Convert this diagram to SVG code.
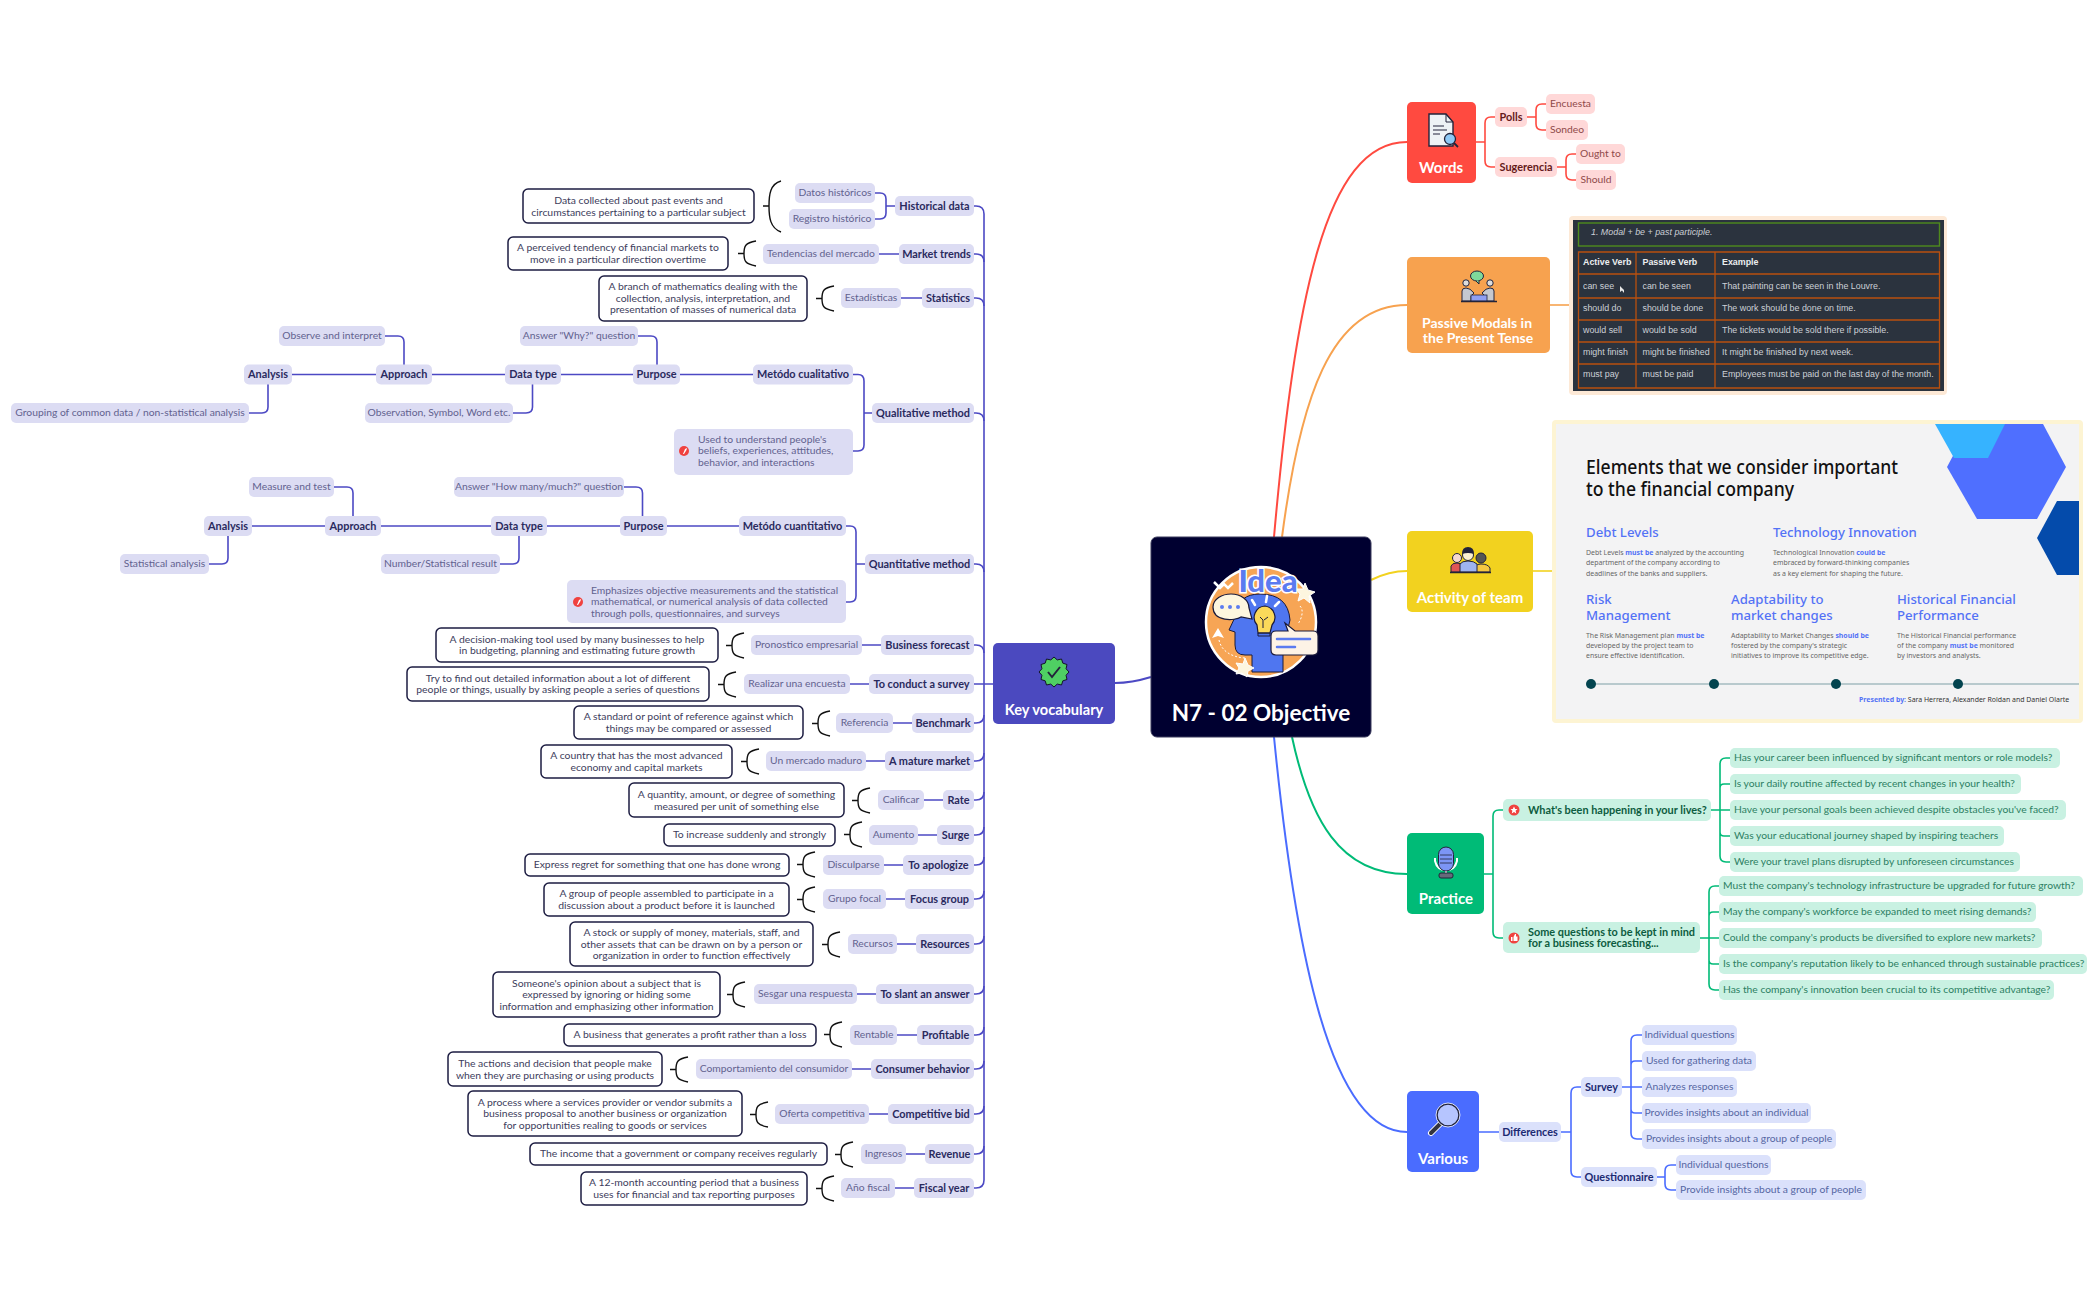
<svg xmlns="http://www.w3.org/2000/svg" width="2099" height="1300" viewBox="0 0 2099 1300">
<style>
text{font-family:"Lato","Noto Sans",sans-serif;font-size:10.3px;dominant-baseline:central;text-anchor:middle;transform:translateY(-.7px)}
.l{text-anchor:start}
.pl{fill:#dcdcf3}.rd{fill:#ffd8d8}.gn{fill:#c9f1e2}.bu{fill:#dbe1fb}
rect.n{stroke:none}
.tp{fill:#62628f}.tpb{fill:#2a2a5e;font-weight:700;font-size:10.9px}
.tr{fill:#8f4a4a}.trb{fill:#651a1a;font-weight:700;font-size:10.9px}
.tg{fill:#2c8062}.tgb{fill:#0d5c40;font-weight:700;font-size:10.9px}
.tb{fill:#5667a3}.tbb{fill:#1b2a72;font-weight:700;font-size:10.9px}
.bx{fill:#fff;stroke:#1d1d42;stroke-width:1.5}
.tx{fill:#3d3d5c;font-size:10.4px}
.main{fill:#fff;font-weight:700;font-size:14.6px}
.cp{fill:none;stroke:#4c49c4;stroke-width:1.6}
.cr{fill:none;stroke:#ff4a40;stroke-width:1.6}
.cg{fill:none;stroke:#00bb77;stroke-width:1.6}
.cb{fill:none;stroke:#4a6cff;stroke-width:1.6}
.brace{fill:none;stroke:#111;stroke-width:1.4}
.tb1{font-family:"Liberation Sans",Arial,sans-serif;font-size:8.9px;fill:#ccd0d6;text-anchor:start}
.tb2{font-family:"Liberation Sans",Arial,sans-serif;font-size:8.9px;fill:#eceef0;font-weight:700;text-anchor:start}
.s1{font-size:20px;font-weight:500;fill:#111;text-anchor:start;font-family:"Noto Sans",sans-serif}
.s2{font-size:13.2px;fill:#5372f6;text-anchor:start;font-family:"Noto Sans",sans-serif;font-weight:500}
.s3{font-size:6.95px;fill:#666;text-anchor:start;font-family:"Noto Sans",sans-serif}
.s3 tspan{fill:#5372f6;font-weight:700}
</style>
<defs>
<path id="br" d="M18 0C7 2 6 5 6 12.500C6 20 7 23 18 25M0 12.500H6" class="brace"/>
</defs>

<g id="connectors">
<path d="M1274 537C1295 300 1325 142 1407 142" fill="none" stroke="#ff4a40" stroke-width="2"/>
<path d="M1282 537C1300 400 1330 305 1407 305" fill="none" stroke="#f7a24f" stroke-width="2"/>
<path d="M1371 580C1385 573 1395 571 1407 571" fill="none" stroke="#f2d21f" stroke-width="2"/>
<path d="M1292 737C1310 820 1340 874 1407 874" fill="none" stroke="#00bb77" stroke-width="2"/>
<path d="M1274 737C1295 950 1330 1132 1407 1132" fill="none" stroke="#4a6cff" stroke-width="2"/>
<path d="M1151 677C1138 681 1128 683 1115 683" fill="none" stroke="#4c49c4" stroke-width="2"/>

<path class="cr" d="M1476 142H1485M1495 117H1491Q1485 117 1485 123V161Q1485 167 1491 167H1495"/>
<path class="cr" d="M1527 117H1536M1546 104H1542Q1536 104 1536 110V124Q1536 130 1542 130H1546"/>
<path class="cr" d="M1557 167H1566M1576 154H1572Q1566 154 1566 160V174Q1566 180 1572 180H1576"/>
<path d="M1550 305H1569" fill="none" stroke="#f7a24f" stroke-width="1.600"/>
<path d="M1533 571H1552" fill="none" stroke="#f2d21f" stroke-width="1.600"/>

<path class="cg" d="M1484 874H1493M1503 810H1499Q1493 810 1493 816V932Q1493 938 1499 938H1503"/>
<path class="cg" d="M1711 810H1730M1730 758H1726Q1720 758 1720 764V856Q1720 862 1726 862H1730M1730 784H1724Q1720 784 1720 788M1730 836H1724Q1720 836 1720 832"/>
<path class="cg" d="M1700 938H1719M1719 886H1715Q1709 886 1709 892V984Q1709 990 1715 990H1719M1719 912H1713Q1709 912 1709 916M1719 964H1713Q1709 964 1709 960"/>

<path class="cb" d="M1479 1132H1499M1561 1132H1571M1581 1087H1577Q1571 1087 1571 1093V1171Q1571 1177 1577 1177H1581"/>
<path class="cb" d="M1622 1087H1642M1642 1035H1637Q1631 1035 1631 1041V1133Q1631 1139 1637 1139H1642M1642 1061H1635Q1631 1061 1631 1065M1642 1113H1635Q1631 1113 1631 1109"/>
<path class="cb" d="M1657 1177H1665M1676 1165H1671Q1665 1165 1665 1171V1184Q1665 1190 1671 1190H1676"/>

<path class="cp" d="M974 206H976Q984 206 984 214V1180Q984 1188 976 1188H974"/>
<path class="cp" d="M974 254H976Q984 254 984 262M974 298H976Q984 298 984 306M974 413H976Q984 413 984 421M974 564H976Q984 564 984 572M974 645H976Q984 645 984 653M974 684H993M974 723H976Q984 723 984 715M974 761H976Q984 761 984 753M974 800H976Q984 800 984 792M974 835H976Q984 835 984 827M974 865H976Q984 865 984 857M974 899H976Q984 899 984 891M974 944H976Q984 944 984 936M974 994H976Q984 994 984 986M974 1035H976Q984 1035 984 1027M974 1069H976Q984 1069 984 1061M974 1114H976Q984 1114 984 1106M974 1154H976Q984 1154 984 1146"/>
<path class="cp" d="M895 206H886M875 193H880Q886 193 886 199V213Q886 219 880 219H875"/>
<path class="cp" d="M879 254H899M901 298H922M893 723H912M866 761H885M924 800H943M918 835H937M884 865H903M886 899H905M897 944H916M857 994H876M897 1035H917M852 1069H871M869 1114H888M906 1154H925M895 1188H914M862 645H881M850 684H869"/>
<path class="cp" d="M292 374.500H376M432 374.500H505M561 374.500H633M680 374.500H753"/>
<path class="cp" d="M657 365V342Q657 336 651 336H638M404 365V342Q404 336 398 336H385M532.500 384V407Q532.500 413 526 413H513M268 384V407Q268 413 262 413H249"/>
<path class="cp" d="M872 413H864M853 374.500H858Q864 374.500 864 381V445Q864 451 858 451H853"/>
<path class="cp" d="M252 526H325M381 526H491M547 526H620M667 526H739"/>
<path class="cp" d="M642.500 516V493Q642.500 487 636 487H624M353 516V493Q353 487 347 487H334M519 536V558Q519 564 513 564H500M228 536V558Q228 564 222 564H209"/>
<path class="cp" d="M865 564H856M846 526H850Q856 526 856 532V596Q856 602 850 602H846"/>
</g>

<g id="center">
<rect x="1151" y="537" width="220" height="200" rx="6" fill="#000030" stroke="#3a3a5c"/>
<circle cx="1261" cy="622" r="55" fill="#f7a555" stroke="#fff" stroke-width="2.500"/>
<path d="M1252 672V655H1245Q1235 655 1235 645V632L1229 630L1236 615Q1238 594 1260 594Q1288 594 1290 620L1283 650V672Z" fill="#4f76f0" stroke="#1a1a3a"/>
<path d="M1213 607C1213 599 1222 594 1231 594C1241 594 1249 600 1249 608L1252 619L1241 617C1235 621 1213 622 1213 607Z" fill="#fdf6df" stroke="#1a1a3a" stroke-width="1.200"/>
<circle cx="1222" cy="607" r="2" fill="#5b7bf0"/><circle cx="1230" cy="607" r="2" fill="#5b7bf0"/><circle cx="1238" cy="607" r="2" fill="#5b7bf0"/>
<path d="M1265 606A11.500 11.500 0 0 1 1272 625L1270 633H1258L1257 625A11.500 11.500 0 0 1 1265 606Z" fill="#fbd95a" stroke="#1a1a3a" stroke-width="1.200"/>
<path d="M1258 633H1270V636H1258ZM1263 628V620L1260 617M1264 620L1268 617" fill="none" stroke="#1a1a3a"/>
<path d="M1255 605L1252 600M1266 602L1267 596M1275 606L1279 602" stroke="#fff" stroke-width="2.500" stroke-linecap="round"/>
<path d="M1285 623L1295 631H1313Q1318 631 1318 636V650Q1318 655 1313 655H1276Q1271 655 1271 650V636Q1271 631 1276 631H1288Z" fill="#fdf3e6" stroke="#1a1a3a" stroke-width="1.200"/>
<path d="M1277 639H1310M1277 647H1295" stroke="#5b7bf0" stroke-width="2.500" stroke-linecap="round"/>
<path d="M1305 583L1308 590L1315 592L1309 596L1310 603L1304 598L1298 601L1300 594L1296 589L1303 589Z" fill="#fdf6df" stroke="#fff"/>
<path d="M1245 658L1248 665L1254 668L1248 671L1247 677L1242 673L1236 674L1239 668L1236 663L1243 664Z" fill="#fdf6df" stroke="#fff"/>
<path d="M1214 582L1220 588L1224 584L1228 588L1233 583" fill="none" stroke="#fff" stroke-width="2.500"/>
<path d="M1218 628L1224 638L1218 636L1212 638Z" fill="#fff"/>
<path d="M1219 640C1221 650 1230 657 1245 658M1300 606C1304 610 1302 618 1298 624" fill="none" stroke="#fff" stroke-dasharray="2 2"/>
<text x="1268" y="581" style="font-size:31px;font-weight:900;fill:#5b7bf0;stroke:#fff;stroke-width:3px;paint-order:stroke">Idea</text>
<text x="1261" y="713" style="fill:#fff;font-weight:700;font-size:22.5px">N7 - 02 Objective</text>
</g>

<g id="words">
<rect x="1407" y="102" width="69" height="81" rx="5" fill="#ff4a40"/>
<path d="M1429 114H1446L1453 122V146H1429Z" fill="#eef2f5" stroke="#22233a" stroke-width="1.400"/>
<path d="M1446 114V122H1453M1433 126H1444M1433 130H1447M1433 134H1440" fill="none" stroke="#22233a"/>
<circle cx="1450" cy="139" r="5.500" fill="#8ec9f5" stroke="#22233a" stroke-width="1.300"/>
<path d="M1454 143L1458 147" stroke="#22233a" stroke-width="1.800"/>
<text x="1441" y="168" class="main" style="font-size:15px">Words</text>
</g>
<g id="polls"><rect class="rd" x="1495" y="107" width="32" height="20" rx="5"/><text x="1511" y="117" class="trb">Polls</text></g>
<g id="encuesta"><rect class="rd" x="1546" y="94" width="49" height="20" rx="5"/><text x="1570.500" y="104" class="tr">Encuesta</text></g>
<g id="sondeo"><rect class="rd" x="1546" y="120" width="42" height="20" rx="5"/><text x="1567" y="130" class="tr">Sondeo</text></g>
<g id="sugerencia"><rect class="rd" x="1495" y="157" width="62" height="20" rx="5"/><text x="1526" y="167" class="trb">Sugerencia</text></g>
<g id="ought"><rect class="rd" x="1576" y="144" width="49" height="20" rx="5"/><text x="1600.500" y="154" class="tr">Ought to</text></g>
<g id="should"><rect class="rd" x="1576" y="170" width="40" height="20" rx="5"/><text x="1596" y="180" class="tr">Should</text></g>

<g id="passive">
<rect x="1407" y="257" width="143" height="96" rx="5" fill="#f7a24f"/>
<ellipse cx="1477" cy="276" rx="6.500" ry="5" fill="#7fd99a" stroke="#22233a"/>
<path d="M1476 281L1479 284L1479 280" fill="#7fd99a" stroke="#22233a"/>
<circle cx="1466" cy="283" r="3.200" fill="#ddd" stroke="#22233a"/><circle cx="1490" cy="283" r="3.200" fill="#ddd" stroke="#22233a"/>
<path d="M1462 301V291Q1462 288 1466 288Q1470 288 1474 293L1471 296V301ZM1494 301V291Q1494 288 1490 288Q1486 288 1482 293L1485 296V301Z" fill="#c5c8cf" stroke="#22233a"/>
<rect x="1471" y="295" width="16" height="6" fill="#8f9ff2" stroke="#22233a" stroke-width=".8"/>
<path d="M1461 301.500H1497" stroke="#22233a" stroke-width="1.400"/>
<text x="1477" y="323" class="main" style="font-size:14px">Passive Modals in</text>
<text x="1478" y="338" class="main" style="font-size:14px">the Present Tense</text>
</g>
<g id="table-image">
<rect x="1569" y="216" width="378" height="179" rx="4" fill="#fde9d6"/>
<rect x="1573" y="220" width="371" height="171" fill="#2b333e"/>
<rect x="1578.500" y="223" width="361" height="23" fill="none" stroke="#4f8a1d" stroke-width="1.400"/>
<text x="1591" y="233" class="tb1" style="font-style:italic">1. Modal + be + past participle.</text>
<path d="M1578.500 252H1939.500V388H1578.500ZM1636 252V388M1715 252V388M1578.500 274H1939.500M1578.500 298H1939.500M1578.500 320H1939.500M1578.500 342H1939.500M1578.500 364H1939.500" fill="none" stroke="#b9500f" stroke-width="1.300"/>
<text x="1583" y="263" class="tb2">Active Verb</text><text x="1642.500" y="263" class="tb2">Passive Verb</text><text x="1722" y="263" class="tb2">Example</text>
<text x="1583" y="287" class="tb1">can see</text><text x="1642.500" y="287" class="tb1">can be seen</text><text x="1722" y="287" class="tb1">That painting can be seen in the Louvre.</text>
<text x="1583" y="309" class="tb1">should do</text><text x="1642.500" y="309" class="tb1">should be done</text><text x="1722" y="309" class="tb1">The work should be done on time.</text>
<text x="1583" y="331" class="tb1">would sell</text><text x="1642.500" y="331" class="tb1">would be sold</text><text x="1722" y="331" class="tb1">The tickets would be sold there if possible.</text>
<text x="1583" y="353" class="tb1">might finish</text><text x="1642.500" y="353" class="tb1">might be finished</text><text x="1722" y="353" class="tb1">It might be finished by next week.</text>
<text x="1583" y="375" class="tb1">must pay</text><text x="1642.500" y="375" class="tb1">must be paid</text><text x="1722" y="375" class="tb1">Employees must be paid on the last day of the month.</text>
<path d="M1620 286L1620 292L1622 290.500L1624 293L1624 290L1623 289Z" fill="#e8e8e8"/>
</g>

<g id="activity">
<rect x="1407" y="531" width="126" height="81" rx="5" fill="#f2d21f"/>
<path d="M1451 572V566Q1452 563 1457 563L1462 564V572Z" fill="#e05555" stroke="#22233a"/>
<path d="M1476 572V566Q1477 564 1481 564Q1488 564 1490 568V572Z" fill="#f5c842" stroke="#22233a"/>
<circle cx="1457" cy="558" r="4.500" fill="#f5d8d0" stroke="#22233a"/>
<circle cx="1481" cy="558" r="5" fill="#555" stroke="#22233a"/>
<path d="M1460 572V564Q1462 561 1468 561Q1474 561 1477 564V572Z" fill="#9fb4f0" stroke="#22233a"/>
<circle cx="1468" cy="555" r="5.500" fill="#fdf2d0" stroke="#22233a"/>
<path d="M1462 554Q1462 547 1468 547Q1474 547 1474 554Q1468 552 1462 554Z" fill="#22233a"/>
<path d="M1450 572.500H1491" stroke="#22233a" stroke-width="1.400"/>
<text x="1470" y="598" class="main" style="font-size:15px">Activity of team</text>
</g>
<g id="slide-image">
<rect x="1552" y="420" width="531" height="303" rx="4" fill="#fdf4d3"/>
<rect x="1556" y="424" width="523" height="295" fill="#f3f3f4"/>
<path d="M1970 424H2043L2066 467L2037 519H1977L1947 467Z" fill="#4f6fff"/>
<path d="M1935 424H2005L1988 458H1954Z" fill="#36b3ff"/>
<path d="M2079 501H2057L2037 538L2057 575H2079Z" fill="#044bab"/>
<text x="1586" y="467" class="s1" textLength="312" lengthAdjust="spacingAndGlyphs">Elements that we consider important</text>
<text x="1586" y="489" class="s1" textLength="208" lengthAdjust="spacingAndGlyphs">to the financial company</text>
<text x="1586" y="533" class="s2">Debt Levels</text>
<text x="1773" y="533" class="s2">Technology Innovation</text>
<text x="1586" y="600" class="s2">Risk</text><text x="1586" y="616" class="s2">Management</text>
<text x="1731" y="600" class="s2">Adaptability to</text><text x="1731" y="616" class="s2">market changes</text>
<text x="1897" y="600" class="s2">Historical Financial</text><text x="1897" y="616" class="s2">Performance</text>
<text x="1586" y="553" class="s3">Debt Levels <tspan>must be</tspan> analyzed by the accounting</text>
<text x="1586" y="563" class="s3">department of the company according to</text>
<text x="1586" y="574" class="s3">deadlines of the banks and suppliers.</text>
<text x="1773" y="553" class="s3">Technological Innovation <tspan>could be</tspan></text>
<text x="1773" y="563" class="s3">embraced by forward-thinking companies</text>
<text x="1773" y="574" class="s3">as a key element for shaping the future.</text>
<text x="1586" y="636" class="s3">The Risk Management plan <tspan>must be</tspan></text>
<text x="1586" y="646" class="s3">developed by the project team to</text>
<text x="1586" y="656" class="s3">ensure effective identification.</text>
<text x="1731" y="636" class="s3">Adaptability to Market Changes <tspan>should be</tspan></text>
<text x="1731" y="646" class="s3">fostered by the company's strategic</text>
<text x="1731" y="656" class="s3">initiatives to improve its competitive edge.</text>
<text x="1897" y="636" class="s3">The Historical Financial performance</text>
<text x="1897" y="646" class="s3">of the company <tspan>must be</tspan> monitored</text>
<text x="1897" y="656" class="s3">by investors and analysts.</text>
<path d="M1591 684H2079" stroke="#7fa0a5" stroke-width="1.200"/>
<circle cx="1591" cy="684" r="5" fill="#03444f"/><circle cx="1714" cy="684" r="5" fill="#03444f"/><circle cx="1836" cy="684" r="5" fill="#03444f"/><circle cx="1958" cy="684" r="5" fill="#03444f"/>
<text x="1859" y="700" class="s3" style="fill:#333"><tspan>Presented by:</tspan> Sara Herrera, Alexander Roldan and Daniel Olarte</text>
</g>

<g id="practice">
<rect x="1407" y="833" width="77" height="81" rx="5" fill="#00bb77"/>
<path d="M1435 858V861Q1437 870 1446 870Q1455 870 1457 861V858M1446 870V874" fill="none" stroke="#fff" stroke-width="2"/>
<rect x="1438.500" y="847" width="15" height="24" rx="7.500" fill="#7c95f5" stroke="#22233a"/>
<path d="M1440 855H1452M1440 859H1452M1440 863H1452" stroke="#22233a" stroke-width=".8"/>
<rect x="1439" y="873" width="14" height="5" rx="2" fill="#666a7a" stroke="#22233a"/>
<text x="1446" y="899" class="main" style="font-size:15px">Practice</text>
</g>
<g id="q1"><rect class="gn" x="1503" y="799" width="208" height="22" rx="5"/><circle cx="1514" cy="810" r="5.500" fill="#f0423f"/><path d="M1514 806.500L1515.200 809H1517.500L1515.600 810.800L1516.300 813.500L1514 812L1511.700 813.500L1512.400 810.800L1510.500 809H1512.800Z" fill="#fff"/><text x="1528" y="810" class="tgb l">What's been happening in your lives?</text></g>
<g id="q1a"><rect class="gn" x="1730" y="748" width="330" height="20" rx="5"/><text x="1734" y="758" class="tg l">Has your career been influenced by significant mentors or role models?</text></g>
<g id="q1b"><rect class="gn" x="1730" y="774" width="291" height="20" rx="5"/><text x="1734" y="784" class="tg l">Is your daily routine affected by recent changes in your health?</text></g>
<g id="q1c"><rect class="gn" x="1730" y="800" width="336" height="20" rx="5"/><text x="1734" y="810" class="tg l">Have your personal goals been achieved despite obstacles you've faced?</text></g>
<g id="q1d"><rect class="gn" x="1730" y="826" width="274" height="20" rx="5"/><text x="1734" y="836" class="tg l">Was your educational journey shaped by inspiring teachers</text></g>
<g id="q1e"><rect class="gn" x="1730" y="852" width="290" height="20" rx="5"/><text x="1734" y="862" class="tg l">Were your travel plans disrupted by unforeseen circumstances</text></g>
<g id="q2"><rect class="gn" x="1503" y="922" width="197" height="31" rx="5"/><circle cx="1514" cy="938" r="5.500" fill="#f0423f"/><path d="M1511 937H1512.500V941H1511ZM1513.500 937L1515 934H1516V936.500H1517.500V941H1513.500Z" fill="#fff"/><text x="1528" y="932" class="tgb l">Some questions to be kept in mind</text><text x="1528" y="943" class="tgb l">for a business forecasting...</text></g>
<g id="q2a"><rect class="gn" x="1719" y="876" width="364" height="20" rx="5"/><text x="1723" y="886" class="tg l">Must the company's technology infrastructure be upgraded for future growth?</text></g>
<g id="q2b"><rect class="gn" x="1719" y="902" width="317" height="20" rx="5"/><text x="1723" y="912" class="tg l">May the company's workforce be expanded to meet rising demands?</text></g>
<g id="q2c"><rect class="gn" x="1719" y="928" width="323" height="20" rx="5"/><text x="1723" y="938" class="tg l">Could the company's products be diversified to explore new markets?</text></g>
<g id="q2d"><rect class="gn" x="1719" y="954" width="368" height="20" rx="5"/><text x="1723" y="964" class="tg l">Is the company's reputation likely to be enhanced through sustainable practices?</text></g>
<g id="q2e"><rect class="gn" x="1719" y="980" width="335" height="20" rx="5"/><text x="1723" y="990" class="tg l">Has the company's innovation been crucial to its competitive advantage?</text></g>

<g id="various">
<rect x="1407" y="1091" width="72" height="81" rx="5" fill="#4a6cff"/>
<path d="M1440 1124L1431 1133" stroke="#fff" stroke-width="6" stroke-linecap="round"/>
<path d="M1440 1124L1431 1133" stroke="#33343f" stroke-width="4" stroke-linecap="round"/>
<circle cx="1448" cy="1115" r="11" fill="#b6c5ff" stroke="#22233a" stroke-width="1.500"/>
<circle cx="1448" cy="1115" r="12" fill="none" stroke="#fff" stroke-width=".8"/>
<text x="1443" y="1159" class="main" style="font-size:15px">Various</text>
</g>
<g id="differences"><rect class="bu" x="1499" y="1122" width="62" height="20" rx="5"/><text x="1530" y="1132" class="tbb">Differences</text></g>
<g id="survey"><rect class="bu" x="1581" y="1077" width="41" height="20" rx="5"/><text x="1601.500" y="1087" class="tbb">Survey</text></g>
<g id="questionnaire"><rect class="bu" x="1581" y="1167" width="76" height="20" rx="5"/><text x="1619" y="1177" class="tbb">Questionnaire</text></g>
<g id="s1"><rect class="bu" x="1642" y="1025" width="95" height="20" rx="5"/><text x="1689.500" y="1035" class="tb">Individual questions</text></g>
<g id="s2"><rect class="bu" x="1642" y="1051" width="114" height="20" rx="5"/><text x="1699" y="1061" class="tb">Used for gathering data</text></g>
<g id="s3"><rect class="bu" x="1642" y="1077" width="95" height="20" rx="5"/><text x="1689.500" y="1087" class="tb">Analyzes responses</text></g>
<g id="s4"><rect class="bu" x="1642" y="1103" width="169" height="20" rx="5"/><text x="1726.500" y="1113" class="tb">Provides insights about an individual</text></g>
<g id="s5"><rect class="bu" x="1642" y="1129" width="194" height="20" rx="5"/><text x="1739" y="1139" class="tb">Provides insights about a group of people</text></g>
<g id="qq1"><rect class="bu" x="1676" y="1155" width="95" height="20" rx="5"/><text x="1723.500" y="1165" class="tb">Individual questions</text></g>
<g id="qq2"><rect class="bu" x="1676" y="1180" width="190" height="20" rx="5"/><text x="1771" y="1190" class="tb">Provide insights about a group of people</text></g>

<g id="key-vocabulary">
<rect x="993" y="643" width="122" height="81" rx="5" fill="#4b49bf"/>
<polygon transform="translate(1054 672)" points="15,0 12.070,3.240 13,7.500 8.840,8.840 7.500,13 3.240,12.070 0,15 -3.240,12.070 -7.500,13 -8.840,8.840 -13,7.500 -12.070,3.240 -15,0 -12.070,-3.240 -13,-7.500 -8.840,-8.840 -7.500,-13 -3.240,-12.070 0,-15 3.240,-12.070 7.500,-13 8.840,-8.840 13,-7.500 12.070,-3.240" fill="#4fcf63" stroke="#15152a" stroke-linejoin="round"/>
<path d="M1048 672L1052 677L1060 667" fill="none" stroke="#22233a" stroke-width="2"/>
<text x="1054" y="710" class="main">Key vocabulary</text>
</g>

<g id="historical"><rect class="pl" x="895" y="196" width="79" height="20" rx="5"/><text x="934.500" y="206" class="tpb">Historical data</text></g>
<g id="datos"><rect class="pl" x="795" y="183" width="80" height="20" rx="5"/><text x="835" y="193" class="tp">Datos históricos</text></g>
<g id="registro"><rect class="pl" x="789" y="209" width="86" height="20" rx="5"/><text x="832" y="219" class="tp">Registro histórico</text></g>
<g id="historical-note"><rect class="bx" x="523" y="189" width="231" height="34" rx="5"/><text x="638.500" y="200.500" class="tx">Data collected about past events and</text><text x="638.500" y="212.500" class="tx">circumstances pertaining to a particular subject</text></g>
<path d="M781 181C770 184 769 195 769 206C769 217 770 228 781 232M763 206H769" class="brace"/>

<g id="market"><rect class="pl" x="899" y="244" width="75" height="20" rx="5"/><text x="936.500" y="254" class="tpb">Market trends</text></g>
<g id="tendencias"><rect class="pl" x="763" y="244" width="116" height="20" rx="5"/><text x="821" y="254" class="tp">Tendencias del mercado</text></g>
<g id="market-note"><rect class="bx" x="508" y="237" width="220" height="33" rx="5"/><text x="618" y="248" class="tx">A perceived tendency of financial markets to</text><text x="618" y="260" class="tx">move in a particular direction overtime</text></g>
<use href="#br" x="738" y="241"/>

<g id="statistics"><rect class="pl" x="922" y="288" width="52" height="20" rx="5"/><text x="948" y="298" class="tpb">Statistics</text></g>
<g id="estadisticas"><rect class="pl" x="841" y="288" width="60" height="20" rx="5"/><text x="871" y="298" class="tp">Estadísticas</text></g>
<g id="statistics-note"><rect class="bx" x="599" y="276" width="208" height="45" rx="5"/><text x="703" y="287" class="tx">A branch of mathematics dealing with the</text><text x="703" y="299" class="tx">collection, analysis, interpretation, and</text><text x="703" y="310" class="tx">presentation of masses of numerical data</text></g>
<use href="#br" x="816" y="286"/>

<g id="observe"><rect class="pl" x="279" y="326" width="106" height="20" rx="5"/><text x="332" y="336" class="tp">Observe and interpret</text></g>
<g id="why"><rect class="pl" x="520" y="326" width="118" height="20" rx="5"/><text x="579" y="336" class="tp">Answer "Why?" question</text></g>
<g id="analysis1"><rect class="pl" x="244" y="364.500" width="48" height="20" rx="5"/><text x="268" y="374.500" class="tpb">Analysis</text></g>
<g id="approach1"><rect class="pl" x="376" y="364.500" width="56" height="20" rx="5"/><text x="404" y="374.500" class="tpb">Approach</text></g>
<g id="datatype1"><rect class="pl" x="505" y="364.500" width="56" height="20" rx="5"/><text x="533" y="374.500" class="tpb">Data type</text></g>
<g id="purpose1"><rect class="pl" x="633" y="364.500" width="47" height="20" rx="5"/><text x="656.500" y="374.500" class="tpb">Purpose</text></g>
<g id="metodo1"><rect class="pl" x="753" y="364.500" width="100" height="20" rx="5"/><text x="803" y="374.500" class="tpb">Metódo cualitativo</text></g>
<g id="qualitative"><rect class="pl" x="872" y="403" width="102" height="20" rx="5"/><text x="923" y="413" class="tpb">Qualitative method</text></g>
<g id="grouping"><rect class="pl" x="11" y="403" width="238" height="20" rx="5"/><text x="130" y="413" class="tp">Grouping of common data / non-statistical analysis</text></g>
<g id="observation"><rect class="pl" x="365" y="403" width="148" height="20" rx="5"/><text x="439" y="413" class="tp">Observation, Symbol, Word etc.</text></g>
<g id="used"><rect class="pl" x="674" y="429" width="179" height="46" rx="5"/><circle cx="684" cy="451" r="5" fill="#f0423f"/><path d="M683 454L685 449L687 448L686.500 450L684 454Z" fill="#fff"/><text x="698" y="440" class="tp l">Used to understand people's</text><text x="698" y="451" class="tp l">beliefs, experiences, attitudes,</text><text x="698" y="463" class="tp l">behavior, and interactions</text></g>

<g id="measure"><rect class="pl" x="249" y="477" width="85" height="20" rx="5"/><text x="291.500" y="487" class="tp">Measure and test</text></g>
<g id="howmany"><rect class="pl" x="454" y="477" width="170" height="20" rx="5"/><text x="539" y="487" class="tp">Answer "How many/much?" question</text></g>
<g id="analysis2"><rect class="pl" x="204" y="516" width="48" height="20" rx="5"/><text x="228" y="526" class="tpb">Analysis</text></g>
<g id="approach2"><rect class="pl" x="325" y="516" width="56" height="20" rx="5"/><text x="353" y="526" class="tpb">Approach</text></g>
<g id="datatype2"><rect class="pl" x="491" y="516" width="56" height="20" rx="5"/><text x="519" y="526" class="tpb">Data type</text></g>
<g id="purpose2"><rect class="pl" x="620" y="516" width="47" height="20" rx="5"/><text x="643.500" y="526" class="tpb">Purpose</text></g>
<g id="metodo2"><rect class="pl" x="739" y="516" width="107" height="20" rx="5"/><text x="792.500" y="526" class="tpb">Metódo cuantitativo</text></g>
<g id="quantitative"><rect class="pl" x="865" y="554" width="109" height="20" rx="5"/><text x="919.500" y="564" class="tpb">Quantitative method</text></g>
<g id="statistical"><rect class="pl" x="120" y="554" width="89" height="20" rx="5"/><text x="164.500" y="564" class="tp">Statistical analysis</text></g>
<g id="number"><rect class="pl" x="381" y="554" width="119" height="20" rx="5"/><text x="440.500" y="564" class="tp">Number/Statistical result</text></g>
<g id="emphasizes"><rect class="pl" x="567" y="580" width="279" height="43" rx="5"/><circle cx="578" cy="602" r="5" fill="#f0423f"/><path d="M577 605L579 600L581 599L580.500 601L578 605Z" fill="#fff"/><text x="591" y="591" class="tp l">Emphasizes objective measurements and the statistical</text><text x="591" y="602" class="tp l">mathematical, or numerical analysis of data collected</text><text x="591" y="614" class="tp l">through polls, questionnaires, and surveys</text></g>

<g id="business"><rect class="pl" x="881" y="635" width="93" height="20" rx="5"/><text x="927.500" y="645" class="tpb">Business forecast</text></g>
<g id="pronostico"><rect class="pl" x="751" y="635" width="111" height="20" rx="5"/><text x="806.500" y="645" class="tp">Pronostico empresarial</text></g>
<g id="business-note"><rect class="bx" x="436" y="628" width="282" height="34" rx="5"/><text x="577" y="639.500" class="tx">A decision-making tool used by many businesses to help</text><text x="577" y="651" class="tx">in budgeting, planning and estimating future growth</text></g>
<use href="#br" x="726" y="633"/>

<g id="conduct"><rect class="pl" x="869" y="674" width="105" height="20" rx="5"/><text x="921.500" y="684" class="tpb">To conduct a survey</text></g>
<g id="realizar"><rect class="pl" x="744" y="674" width="106" height="20" rx="5"/><text x="797" y="684" class="tp">Realizar una encuesta</text></g>
<g id="conduct-note"><rect class="bx" x="407" y="667" width="302" height="34" rx="5"/><text x="558" y="678.500" class="tx">Try to find out detailed information about a lot of different</text><text x="558" y="690" class="tx">people or things, usually by asking people a series of questions</text></g>
<use href="#br" x="718" y="672"/>

<g id="benchmark"><rect class="pl" x="912" y="713" width="62" height="20" rx="5"/><text x="943" y="723" class="tpb">Benchmark</text></g>
<g id="referencia"><rect class="pl" x="836" y="713" width="57" height="20" rx="5"/><text x="864.500" y="723" class="tp">Referencia</text></g>
<g id="benchmark-note"><rect class="bx" x="574" y="706" width="229" height="33" rx="5"/><text x="688.500" y="717" class="tx">A standard or point of reference against which</text><text x="688.500" y="729" class="tx">things may be compared or assessed</text></g>
<use href="#br" x="812" y="711"/>

<g id="mature"><rect class="pl" x="885" y="751" width="89" height="20" rx="5"/><text x="929.500" y="761" class="tpb">A mature market</text></g>
<g id="mercado"><rect class="pl" x="766" y="751" width="100" height="20" rx="5"/><text x="816" y="761" class="tp">Un mercado maduro</text></g>
<g id="mature-note"><rect class="bx" x="541" y="745" width="191" height="33" rx="5"/><text x="636.500" y="756" class="tx">A country that has the most advanced</text><text x="636.500" y="768" class="tx">economy and capital markets</text></g>
<use href="#br" x="741" y="749"/>

<g id="rate"><rect class="pl" x="943" y="790" width="31" height="20" rx="5"/><text x="958.500" y="800" class="tpb">Rate</text></g>
<g id="calificar"><rect class="pl" x="878" y="790" width="46" height="20" rx="5"/><text x="901" y="800" class="tp">Calificar</text></g>
<g id="rate-note"><rect class="bx" x="629" y="783" width="215" height="34" rx="5"/><text x="736.500" y="794.500" class="tx">A quantity, amount, or degree of something</text><text x="736.500" y="806.500" class="tx">measured per unit of something else</text></g>
<use href="#br" x="852" y="788"/>

<g id="surge"><rect class="pl" x="937" y="825" width="37" height="20" rx="5"/><text x="955.500" y="835" class="tpb">Surge</text></g>
<g id="aumento"><rect class="pl" x="869" y="825" width="49" height="20" rx="5"/><text x="893.500" y="835" class="tp">Aumento</text></g>
<g id="surge-note"><rect class="bx" x="664" y="824" width="171" height="22" rx="5"/><text x="749.500" y="835" class="tx">To increase suddenly and strongly</text></g>
<use href="#br" x="844" y="822"/>

<g id="apologize"><rect class="pl" x="903" y="855" width="71" height="20" rx="5"/><text x="938.500" y="865" class="tpb">To apologize</text></g>
<g id="disculparse"><rect class="pl" x="823" y="855" width="61" height="20" rx="5"/><text x="853.500" y="865" class="tp">Disculparse</text></g>
<g id="apologize-note"><rect class="bx" x="525" y="854" width="264" height="22" rx="5"/><text x="657" y="865" class="tx">Express regret for something that one has done wrong</text></g>
<use href="#br" x="797" y="852"/>

<g id="focus"><rect class="pl" x="905" y="889" width="69" height="20" rx="5"/><text x="939.500" y="899" class="tpb">Focus group</text></g>
<g id="grupo"><rect class="pl" x="823" y="889" width="63" height="20" rx="5"/><text x="854.500" y="899" class="tp">Grupo focal</text></g>
<g id="focus-note"><rect class="bx" x="544" y="883" width="245" height="33" rx="5"/><text x="666.500" y="894" class="tx">A group of people assembled to participate in a</text><text x="666.500" y="906" class="tx">discussion about a product before it is launched</text></g>
<use href="#br" x="797" y="887"/>

<g id="resources"><rect class="pl" x="916" y="934" width="58" height="20" rx="5"/><text x="945" y="944" class="tpb">Resources</text></g>
<g id="recursos"><rect class="pl" x="848" y="934" width="49" height="20" rx="5"/><text x="872.500" y="944" class="tp">Recursos</text></g>
<g id="resources-note"><rect class="bx" x="570" y="922" width="243" height="44" rx="5"/><text x="691.500" y="933" class="tx">A stock or supply of money, materials, staff, and</text><text x="691.500" y="945" class="tx">other assets that can be drawn on by a person or</text><text x="691.500" y="956" class="tx">organization in order to function effectively</text></g>
<use href="#br" x="822" y="932"/>

<g id="slant"><rect class="pl" x="876" y="984" width="98" height="20" rx="5"/><text x="925" y="994" class="tpb">To slant an answer</text></g>
<g id="sesgar"><rect class="pl" x="754" y="984" width="103" height="20" rx="5"/><text x="805.500" y="994" class="tp">Sesgar una respuesta</text></g>
<g id="slant-note"><rect class="bx" x="493" y="972" width="227" height="45" rx="5"/><text x="606.500" y="984" class="tx">Someone's opinion about a subject that is</text><text x="606.500" y="995" class="tx">expressed by ignoring or hiding some</text><text x="606.500" y="1007" class="tx">information and emphasizing other information</text></g>
<use href="#br" x="727" y="982"/>

<g id="profitable"><rect class="pl" x="917" y="1025" width="57" height="20" rx="5"/><text x="945.500" y="1035" class="tpb">Profitable</text></g>
<g id="rentable"><rect class="pl" x="850" y="1025" width="47" height="20" rx="5"/><text x="873.500" y="1035" class="tp">Rentable</text></g>
<g id="profitable-note"><rect class="bx" x="564" y="1024" width="252" height="22" rx="5"/><text x="690" y="1035" class="tx">A business that generates a profit rather than a loss</text></g>
<use href="#br" x="824" y="1022"/>

<g id="consumer"><rect class="pl" x="871" y="1059" width="103" height="20" rx="5"/><text x="922.500" y="1069" class="tpb">Consumer behavior</text></g>
<g id="comportamiento"><rect class="pl" x="696" y="1059" width="156" height="20" rx="5"/><text x="774" y="1069" class="tp">Comportamiento del consumidor</text></g>
<g id="consumer-note"><rect class="bx" x="448" y="1052" width="214" height="34" rx="5"/><text x="555" y="1063.500" class="tx">The actions and decision that people make</text><text x="555" y="1075.500" class="tx">when they are purchasing or using products</text></g>
<use href="#br" x="670" y="1057"/>

<g id="competitive"><rect class="pl" x="888" y="1104" width="86" height="20" rx="5"/><text x="931" y="1114" class="tpb">Competitive bid</text></g>
<g id="oferta"><rect class="pl" x="775" y="1104" width="94" height="20" rx="5"/><text x="822" y="1114" class="tp">Oferta competitiva</text></g>
<g id="competitive-note"><rect class="bx" x="468" y="1091" width="274" height="45" rx="5"/><text x="605" y="1103" class="tx">A process where a services provider or vendor submits a</text><text x="605" y="1114" class="tx">business proposal to another business or organization</text><text x="605" y="1126" class="tx">for opportunities realing to goods or services</text></g>
<use href="#br" x="750" y="1102"/>

<g id="revenue"><rect class="pl" x="925" y="1144" width="49" height="20" rx="5"/><text x="949.500" y="1154" class="tpb">Revenue</text></g>
<g id="ingresos"><rect class="pl" x="861" y="1144" width="45" height="20" rx="5"/><text x="883.500" y="1154" class="tp">Ingresos</text></g>
<g id="revenue-note"><rect class="bx" x="530" y="1143" width="297" height="22" rx="5"/><text x="678.500" y="1154" class="tx">The income that a government or company receives regularly</text></g>
<use href="#br" x="835" y="1142"/>

<g id="fiscal"><rect class="pl" x="914" y="1178" width="60" height="20" rx="5"/><text x="944" y="1188" class="tpb">Fiscal year</text></g>
<g id="ano"><rect class="pl" x="841" y="1178" width="54" height="20" rx="5"/><text x="868" y="1188" class="tp">Año fiscal</text></g>
<g id="fiscal-note"><rect class="bx" x="581" y="1172" width="226" height="33" rx="5"/><text x="694" y="1183" class="tx">A 12-month accounting period that a business</text><text x="694" y="1195" class="tx">uses for financial and tax reporting purposes</text></g>
<use href="#br" x="816" y="1176"/>
</svg>
